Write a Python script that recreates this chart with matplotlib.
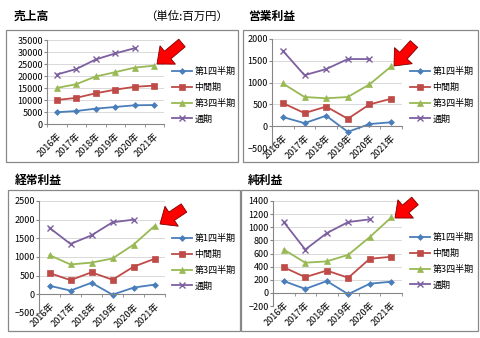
import numpy as np
import matplotlib
matplotlib.use('Agg')
import matplotlib.pyplot as plt
from matplotlib.patches import Rectangle, FancyArrow
from matplotlib.transforms import IdentityTransform

plt.rcParams['font.family'] = ['Noto Sans CJK JP', 'DejaVu Sans']

years = ['2016年', '2017年', '2018年', '2019年', '2020年', '2021年']
series_names = ['第1四半期', '中間期', '第3四半期', '通期']

# 売上高
sales_q1 = [4900, 5400, 6400, 7100, 7800, 7900]
sales_h1 = [10000, 10900, 12800, 14300, 15500, 16000]
sales_q3 = [15000, 16600, 19800, 21600, 23500, 24300]
sales_fy = [20600, 22900, 26900, 29400, 31600]

# 営業利益
op_q1 = [210, 70, 240, -130, 50, 90]
op_h1 = [530, 300, 450, 170, 500, 630]
op_q3 = [980, 670, 640, 670, 960, 1370]
op_fy = [1730, 1170, 1310, 1540, 1540]

# 経常利益
ord_q1 = [230, 100, 310, -10, 180, 260]
ord_h1 = [570, 380, 590, 390, 740, 950]
ord_q3 = [1050, 800, 850, 960, 1330, 1830]
ord_fy = [1780, 1350, 1580, 1930, 2000]

# 純利益
net_q1 = [180, 60, 180, -20, 140, 170]
net_h1 = [390, 240, 340, 230, 520, 550]
net_q3 = [660, 460, 480, 580, 850, 1150]
net_fy = [1080, 660, 910, 1080, 1120]

colors = ['#4A7EBB', '#BE4B48', '#98B954', '#7D60A0']
markers = ['D', 's', '^', 'x']
msizes = [3, 5, 5, 5]

W, H = 480, 338
fig = plt.figure(figsize=(W / 100, H / 100), dpi=100)


def px(x0, y0, x1, y1):
    return [x0 / W, 1 - y1 / H, (x1 - x0) / W, (y1 - y0) / H]


def panel(box, axrect, title, data, ylim, ystep, leg_xy, arrow):
    fig.patches.append(Rectangle((box[0], box[1]), box[2], box[3],
                                 transform=fig.transFigure, fill=False,
                                 ec='#888888', lw=0.9))
    ax = fig.add_axes(axrect)
    x = np.arange(6)
    for vals, name, c, m, ms in zip(data, series_names, colors, markers, msizes):
        ax.plot(x[:len(vals)], vals, color=c, marker=m, ms=ms, lw=1.3,
                mew=1 if m == 'x' else 0.5, label=name)
    ax.set_xlim(-0.5, 5.5)
    ax.set_ylim(*ylim)
    ax.set_yticks(np.arange(ylim[0], ylim[1] + 1, ystep))
    ax.yaxis.grid(True, color='#D9D9D9', lw=0.7)
    ax.set_axisbelow(True)
    for s in ['top', 'right']:
        ax.spines[s].set_visible(False)
    ax.spines['bottom'].set_position(('data', 0))
    ax.spines['bottom'].set_color('#868686')
    ax.spines['left'].set_color('#868686')
    ax.tick_params(axis='y', labelsize=6.5, length=2, color='#868686', pad=1)
    ax.set_xticks(x)
    ax.set_xticks(np.arange(-0.5, 6, 1), minor=True)
    ax.set_xticklabels(years, rotation=45, ha='right', rotation_mode='anchor',
                       fontsize=6.6)
    ax.tick_params(axis='x', which='major', length=0, pad=5.5)
    ax.tick_params(axis='x', which='minor', length=2.5, color='#868686')
    ax.legend(loc='upper left', bbox_to_anchor=leg_xy,
              bbox_transform=fig.transFigure, frameon=False, fontsize=6.5,
              handlelength=2.2, labelspacing=0.75, borderaxespad=0,
              borderpad=0, handletextpad=0.3)
    fig.text(title[1] / W, 1 - title[2] / H, title[0], fontsize=8.5,
             fontweight='bold', va='center')
    tx, ty, hx, hy = arrow[0], H - arrow[1], arrow[2], H - arrow[3]
    fig.patches.append(FancyArrow(tx, ty, hx - tx, hy - ty, width=10,
                                  head_width=24, head_length=14,
                                  length_includes_head=True,
                                  fc='#FF0000', ec='#7F0000', lw=0.6,
                                  transform=IdentityTransform()))
    return ax


panel(px(6, 30, 238, 162), px(47, 40, 164, 124), ('売上高', 14, 16),
      [sales_q1, sales_h1, sales_q3, sales_fy], (0, 35000), 5000,
      (172 / W, 1 - 67 / H), (182, 43, 157, 64))
fig.text(145 / W, 1 - 16 / H, '（単位:百万円）', fontsize=8.2, va='center')

panel(px(243, 30, 478, 162), px(272, 39, 402, 148), ('営業利益', 248, 16),
      [op_q1, op_h1, op_q3, op_fy], (-500, 2000), 500,
      (410 / W, 1 - 67 / H), (414, 44, 394, 66))

panel(px(8, 190, 240, 331), px(39, 201, 165, 313), ('経常利益', 15, 180),
      [ord_q1, ord_h1, ord_q3, ord_fy], (-500, 2500), 500,
      (172 / W, 1 - 234 / H), (184, 208, 160, 224))

panel(px(241, 190, 478, 331), px(273, 201, 402, 306), ('純利益', 248, 180),
      [net_q1, net_h1, net_q3, net_fy], (-200, 1400), 200,
      (410 / W, 1 - 233 / H), (415, 201, 395, 218))

fig.savefig('out.png', dpi=100)
